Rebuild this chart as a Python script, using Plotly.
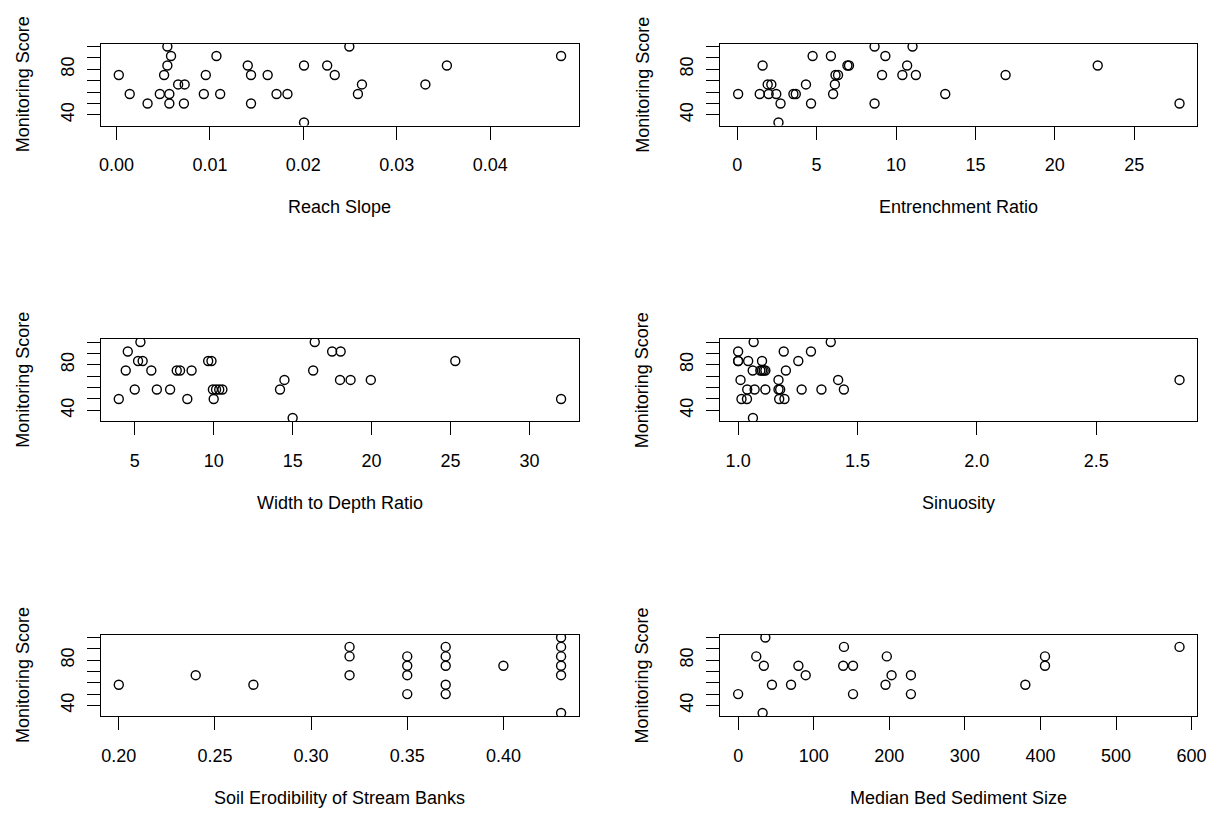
import plotly.graph_objects as go

# ---- data: monitoring score against six channel attributes ----
reach_slope = [0.00545, 0.02492,
               0.00584, 0.0107, 0.04758,
               0.00545, 0.01405, 0.02007, 0.02255, 0.03536,
               0.00025, 0.0051, 0.00956, 0.0144, 0.01618, 0.02336,
               0.0066, 0.0073, 0.02627, 0.03306,
               0.00142, 0.00464, 0.00566, 0.00935, 0.0111, 0.01713, 0.0183, 0.02584,
               0.00333, 0.00566, 0.00722, 0.0144,
               0.02007]
reach_slope_score = [100, 100,
                     91.7, 91.7, 91.7,
                     83.3, 83.3, 83.3, 83.3, 83.3,
                     75, 75, 75, 75, 75, 75,
                     66.7, 66.7, 66.7, 66.7,
                     58.3, 58.3, 58.3, 58.3, 58.3, 58.3, 58.3, 58.3,
                     50, 50, 50, 50,
                     33.3]

entrenchment = [8.65, 11.04,
                4.75, 5.9, 9.33,
                1.6, 6.94, 7.04, 10.7, 22.7,
                6.19, 6.35, 9.12, 10.4, 11.25, 16.9,
                1.92, 2.15, 4.33, 6.15,
                0.06, 1.42, 1.98, 2.46, 3.54, 3.69, 6.04, 13.1,
                2.73, 4.65, 8.65, 27.85,
                2.6]
entrenchment_score = [100, 100,
                      91.7, 91.7, 91.7,
                      83.3, 83.3, 83.3, 83.3, 83.3,
                      75, 75, 75, 75, 75, 75,
                      66.7, 66.7, 66.7, 66.7,
                      58.3, 58.3, 58.3, 58.3, 58.3, 58.3, 58.3, 58.3,
                      50, 50, 50, 50,
                      33.3]

width_depth = [5.36, 16.4,
               4.56, 17.5, 18.04,
               5.21, 5.5, 9.65, 9.86, 25.3,
               4.43, 6.05, 7.66, 7.87, 8.6, 16.3,
               14.48, 18.0, 18.67, 19.95,
               5.0, 6.4, 7.24, 9.95, 10.15, 10.35, 10.55, 14.2,
               3.99, 8.33, 10.0, 32.0,
               15.0]
width_depth_score = [100, 100,
                     91.7, 91.7, 91.7,
                     83.3, 83.3, 83.3, 83.3, 83.3,
                     75, 75, 75, 75, 75, 75,
                     66.7, 66.7, 66.7, 66.7,
                     58.3, 58.3, 58.3, 58.3, 58.3, 58.3, 58.3, 58.3,
                     50, 50, 50, 50,
                     33.3]

sinuosity = [1.065, 1.388,
             1.0, 1.191, 1.305,
             1.0, 1.0, 1.042, 1.1, 1.252,
             1.061, 1.093, 1.1, 1.107, 1.114, 1.2,
             1.01, 1.169, 1.419, 2.849,
             1.038, 1.069, 1.114, 1.169, 1.176, 1.266, 1.349, 1.443,
             1.014, 1.037, 1.172, 1.194,
             1.062]
sinuosity_score = [100, 100,
                   91.7, 91.7, 91.7,
                   83.3, 83.3, 83.3, 83.3, 83.3,
                   75, 75, 75, 75, 75, 75,
                   66.7, 66.7, 66.7, 66.7,
                   58.3, 58.3, 58.3, 58.3, 58.3, 58.3, 58.3, 58.3,
                   50, 50, 50, 50,
                   33.3]

soil_erodibility = [0.20, 0.24, 0.27,
                    0.32, 0.32, 0.32,
                    0.35, 0.35, 0.35, 0.35,
                    0.37, 0.37, 0.37, 0.37, 0.37,
                    0.40,
                    0.43, 0.43, 0.43, 0.43, 0.43, 0.43]
soil_erodibility_score = [58.3, 66.7, 58.3,
                          91.7, 83.3, 66.7,
                          83.3, 75, 66.7, 50,
                          91.7, 83.3, 75, 58.3, 50,
                          75,
                          100, 91.7, 83.3, 75, 66.7, 33.3]

sediment_size = [0, 36, 32.4, 24, 34, 44.7, 70, 79.7, 89.4,
                 140, 139, 152, 152, 196.7, 195, 203, 228.6, 228.6,
                 380, 406, 406, 584]
sediment_size_score = [50, 100, 33.3, 83.3, 75, 58.3, 58.3, 75, 66.7,
                       91.7, 75, 75, 50, 83.3, 58.3, 66.7, 66.7, 50,
                       58.3, 83.3, 75, 91.7]

x_titles = ["Reach Slope", "Entrenchment Ratio", "Width to Depth Ratio",
            "Sinuosity", "Soil Erodibility of Stream Banks",
            "Median Bed Sediment Size"]
x_tickvals = [[0.00, 0.01, 0.02, 0.03, 0.04],
              [0, 5, 10, 15, 20, 25],
              [5, 10, 15, 20, 25, 30],
              [1.0, 1.5, 2.0, 2.5],
              [0.20, 0.25, 0.30, 0.35, 0.40],
              [0, 100, 200, 300, 400, 500, 600]]
x_ticktext = [["0.00", "0.01", "0.02", "0.03", "0.04"],
              ["0", "5", "10", "15", "20", "25"],
              ["5", "10", "15", "20", "25", "30"],
              ["1.0", "1.5", "2.0", "2.5"],
              ["0.20", "0.25", "0.30", "0.35", "0.40"],
              ["0", "100", "200", "300", "400", "500", "600"]]
y_tickvals = [40, 50, 60, 70, 80, 90, 100]
y_ticktext = ["40", "", "", "", "80", "", ""]
y_title = "Monitoring Score"

panels = [(reach_slope, reach_slope_score),
          (entrenchment, entrenchment_score),
          (width_depth, width_depth_score),
          (sinuosity, sinuosity_score),
          (soil_erodibility, soil_erodibility_score),
          (sediment_size, sediment_size_score)]

# ---- page geometry (pixels) ----
W, H = 1225, 825
col_left = [100, 725]
col_right = [582, 1206]
row_top = [43.5, 339, 634.5]
row_bottom = [125.5, 421, 716]

FONT = "Liberation Sans, Arial, sans-serif"
FS = 18


def padded(vals):
    lo, hi = min(vals), max(vals)
    ext = 0.04 * (hi - lo)
    return [lo - ext, hi + ext]


fig = go.Figure()
annotations = []
all_scores = [s for _, ys in panels for s in ys]
y_range = padded(all_scores)

for i, (xs, ys) in enumerate(panels):
    r, c = divmod(i, 2)
    n = "" if i == 0 else str(i + 1)
    fig.add_trace(go.Scatter(
        x=xs, y=ys, mode="markers",
        xaxis="x" + n, yaxis="y" + n,
        marker=dict(symbol="circle-open", size=9, color="black",
                    line=dict(width=1.4, color="black")),
        showlegend=False, hoverinfo="x+y",
    ))
    x0, x1 = col_left[c] / W, col_right[c] / W
    y0, y1 = 1 - row_bottom[r] / H, 1 - row_top[r] / H
    common = dict(showgrid=False, zeroline=False, showline=True,
                  linecolor="black", linewidth=1, mirror=True,
                  ticks="outside", ticklen=13, tickwidth=1, tickcolor="black",
                  tickfont=dict(family=FONT, size=FS, color="black"))
    fig.layout["xaxis" + n] = dict(
        domain=[x0, x1], anchor="y" + n, range=padded(xs),
        tickmode="array", tickvals=x_tickvals[i], ticktext=x_ticktext[i],
        ticklabelstandoff=10, **common)
    fig.layout["yaxis" + n] = dict(
        domain=[y0, y1], anchor="x" + n, range=y_range,
        tickmode="array", tickvals=y_tickvals, ticktext=y_ticktext,
        tickangle=-90, ticklabelstandoff=6, **common)

    cx = (col_left[c] + col_right[c]) / 2 / W
    annotations.append(dict(
        text=x_titles[i], xref="paper", yref="paper",
        x=cx, y=1 - (row_bottom[r] + 82) / H,
        xanchor="center", yanchor="middle", showarrow=False,
        font=dict(family=FONT, size=FS, color="black")))
    annotations.append(dict(
        text=y_title, xref="paper", yref="paper",
        x=(col_left[c] - 79) / W, y=1 - (row_top[r] + row_bottom[r]) / 2 / H,
        xanchor="center", yanchor="middle", textangle=-90, showarrow=False,
        font=dict(family=FONT, size=FS, color="black")))

fig.update_layout(
    width=W, height=H, autosize=False,
    margin=dict(l=0, r=0, t=0, b=0),
    paper_bgcolor="white", plot_bgcolor="white",
    annotations=annotations,
)

fig.write_html("out.html")
